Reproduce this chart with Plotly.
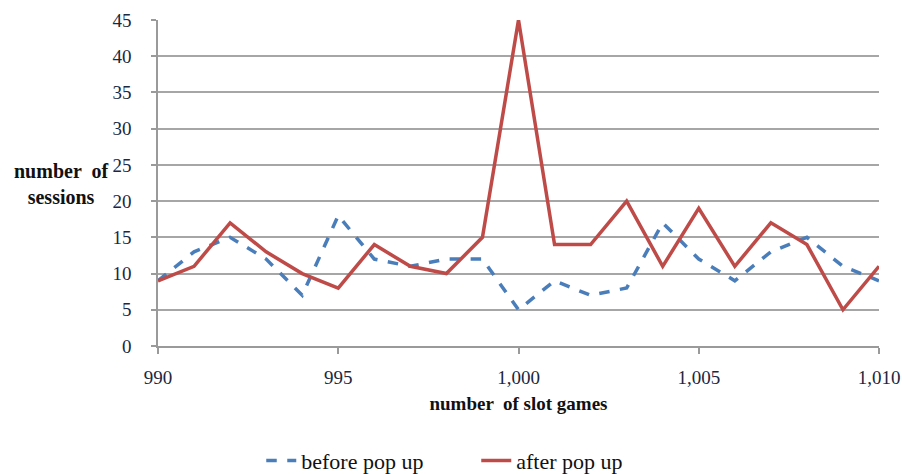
import plotly.graph_objects as go

games = list(range(990, 1011))
before_pop_up = [9, 13, 15, 12, 7, 18, 12, 11, 12, 12, 5, 9, 7, 8, 17, 12, 9, 13, 15, 11, 9]
after_pop_up = [9, 11, 17, 13, 10, 8, 14, 11, 10, 15, 45, 14, 14, 20, 11, 19, 11, 17, 14, 5, 11]
x_ticks = [990, 995, 1000, 1005, 1010]
x_tick_labels = ["990", "995", "1,000", "1,005", "1,010"]

FONT = "'Liberation Serif', 'Times New Roman', serif"

fig = go.Figure()
fig.add_trace(go.Scatter(x=games, y=before_pop_up, mode="lines", name="before pop up",
                         line=dict(color="#4a7ebb", width=3.5, dash="dash")))
fig.add_trace(go.Scatter(x=games, y=after_pop_up, mode="lines", name="after pop up",
                         line=dict(color="#be4b48", width=3.5)))

fig.update_layout(
    width=902, height=474,
    margin=dict(l=158, r=23, t=20, b=128, autoexpand=False),
    paper_bgcolor="white", plot_bgcolor="white",
    font=dict(family=FONT, size=19, color="#1c2740"),
    showlegend=True,
    legend=dict(orientation="h", xref="container", yref="container",
                x=0.528, xanchor="center", y=0.028, yanchor="middle",
                font=dict(family=FONT, size=22, color="#111"), tracegroupgap=0,
                entrywidth=170, entrywidthmode="pixels"),
    annotations=[dict(text="<b>number  of<br>sessions</b>", xref="paper", yref="y",
                      x=-0.066, y=22.3, xanchor="right", yanchor="middle", showarrow=False,
                      align="center", font=dict(family=FONT, size=20, color="#111"))],
)
fig.update_xaxes(range=[990, 1010], tickvals=x_ticks, ticktext=x_tick_labels,
                 showgrid=False, showline=True, linecolor="#9a9a9a", linewidth=1.5,
                 ticks="outside", ticklen=6, tickcolor="#9a9a9a", tickwidth=1.5,
                 ticklabelstandoff=7, zeroline=False, automargin=False,
                 title=dict(text="<b>number  of slot games</b>", standoff=10,
                            font=dict(family=FONT, size=19, color="#111")))
fig.update_yaxes(range=[0, 45], dtick=5, showgrid=True, gridcolor="#a6a6a6", gridwidth=1.5,
                 showline=True, linecolor="#9a9a9a", linewidth=1.5,
                 ticks="outside", ticklen=5, tickcolor="#9a9a9a", tickwidth=1.5,
                 ticklabelstandoff=16, zeroline=False, automargin=False)

fig.write_html("out.html", config={"displayModeBar": False},
               post_script="document.body.style.margin='0';document.body.style.overflow='hidden';")
